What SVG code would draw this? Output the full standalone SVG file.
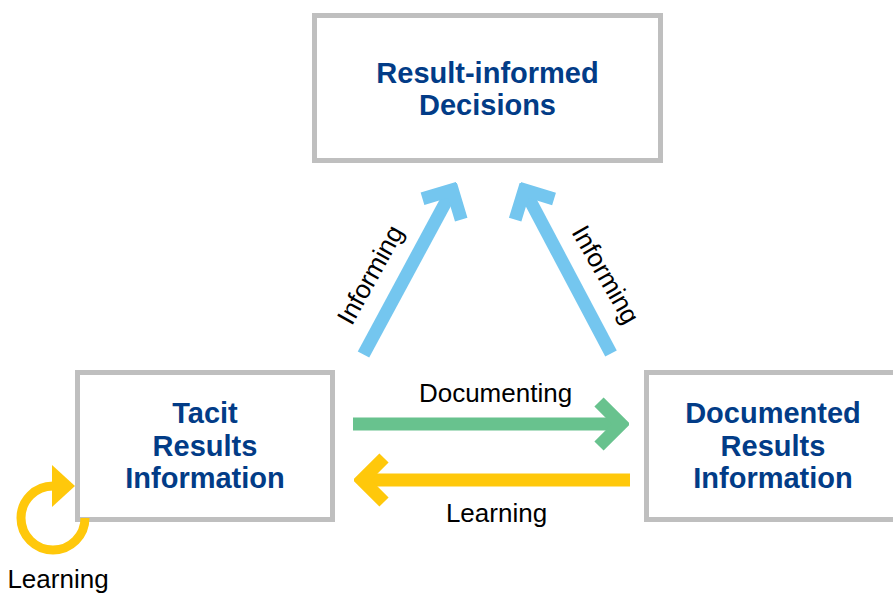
<svg xmlns="http://www.w3.org/2000/svg" width="893" height="594" viewBox="0 0 893 594">
<style>
.box{fill:#fff;stroke:#bfbfbf;stroke-width:5}
.nt{font-family:"Liberation Sans",Arial,sans-serif;font-weight:bold;font-size:29px;fill:#023c87;text-anchor:middle}
.lb{font-family:"Liberation Sans",Arial,sans-serif;font-size:26px;fill:#000;text-anchor:middle}
.sh{fill:none;stroke-width:13;stroke-linecap:butt}
</style>
<defs>
<marker id="hb" viewBox="-32 -32 40 64" markerWidth="40" markerHeight="64" refX="0" refY="0" orient="auto" markerUnits="userSpaceOnUse">
<path d="M-22,-22 L0,0 L-22,22" fill="none" stroke="#74c6ef" stroke-width="13" stroke-linejoin="miter"/>
</marker>
<marker id="hg" viewBox="-32 -32 40 64" markerWidth="40" markerHeight="64" refX="0" refY="0" orient="auto" markerUnits="userSpaceOnUse">
<path d="M-22,-22 L0,0 L-22,22" fill="none" stroke="#68c28e" stroke-width="13" stroke-linejoin="miter"/>
</marker>
<marker id="hy" viewBox="-32 -32 40 64" markerWidth="40" markerHeight="64" refX="0" refY="0" orient="auto" markerUnits="userSpaceOnUse">
<path d="M-22,-22 L0,0 L-22,22" fill="none" stroke="#ffc80b" stroke-width="13" stroke-linejoin="miter"/>
</marker>
</defs>
<g id="node-decisions">
<rect class="box" x="314.5" y="15.5" width="346" height="145"/>
<text class="nt" x="487.5" y="83">Result-informed</text>
<text class="nt" x="487.5" y="115">Decisions</text>
</g>
<g id="node-tacit">
<rect class="box" x="77.5" y="372.5" width="255" height="147"/>
<text class="nt" x="205" y="423">Tacit</text>
<text class="nt" x="205" y="455.5">Results</text>
<text class="nt" x="205" y="488">Information</text>
</g>
<g id="node-documented">
<rect class="box" x="646.5" y="372.5" width="254" height="147"/>
<text class="nt" x="773" y="423">Documented</text>
<text class="nt" x="773" y="455.5">Results</text>
<text class="nt" x="773" y="488">Information</text>
</g>
<g id="connectors">
<line class="sh" x1="363.5" y1="354.5" x2="452.3" y2="189.8" stroke="#74c6ef" marker-end="url(#hb)"/>
<line class="sh" x1="611" y1="353.5" x2="524.3" y2="189.8" stroke="#74c6ef" marker-end="url(#hb)"/>
<line class="sh" x1="353" y1="424" x2="621" y2="424" stroke="#68c28e" marker-end="url(#hg)"/>
<line class="sh" x1="630" y1="480" x2="362" y2="480" stroke="#ffc80b" marker-end="url(#hy)"/>
<path d="M53,486 A32,32 0 1 0 85,518" fill="none" stroke="#ffc80b" stroke-width="9"/>
<polygon points="52,465 75,486 52,507" fill="#ffc80b"/>
<text class="lb" transform="translate(378,279) rotate(-61)">Informing</text>
<text class="lb" transform="translate(598,279) rotate(60)">Informing</text>
<text class="lb" x="495.5" y="402">Documenting</text>
<text class="lb" x="496.5" y="522">Learning</text>
<text class="lb" x="58" y="588">Learning</text>
</g>
</svg>
